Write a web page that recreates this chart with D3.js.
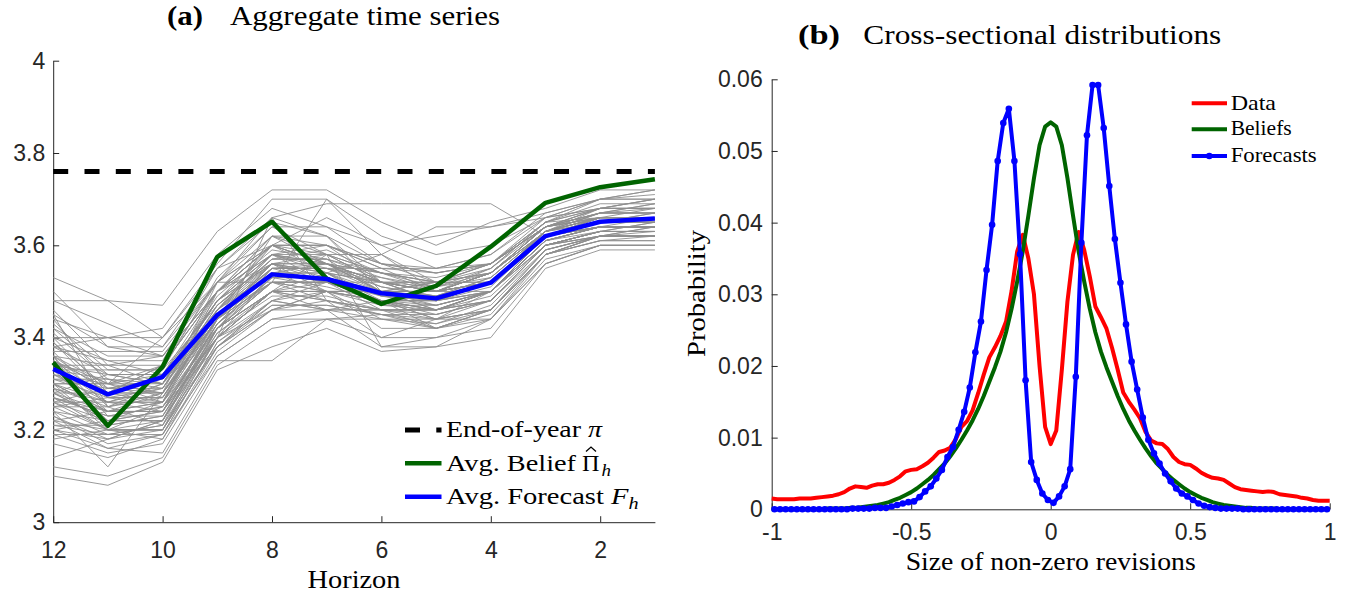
<!DOCTYPE html>
<html>
<head>
<meta charset="utf-8">
<script src="https://cdn.jsdelivr.net/npm/d3@7"></script>
<style>
  body { margin: 0; background: #fff; }
  svg { display: block; }
</style>
</head>
<body>
<div id="chart"></div>
<script>
/**
 * Data - panel (a)
 */
const horizons = [12, 11, 10, 9, 8, 7, 6, 5, 4, 3, 2, 1];
const endOfYearPi = 3.76;
const avgBelief = [3.346, 3.209, 3.337, 3.575, 3.651, 3.528, 3.473, 3.512, 3.597, 3.692, 3.726, 3.743];
const avgForecast = [3.332, 3.277, 3.315, 3.449, 3.537, 3.527, 3.496, 3.485, 3.519, 3.620, 3.651, 3.658];
// individual forecaster paths, horizon 12 -> 1
const forecasterPaths = [
  [3.35,3.27,3.27,3.45,3.55,3.55,3.50,3.50,3.50,3.62,3.65,3.65],
  [3.42,3.32,3.30,3.50,3.60,3.60,3.52,3.48,3.52,3.63,3.68,3.68],
  [3.20,3.18,3.20,3.40,3.50,3.48,3.45,3.45,3.48,3.60,3.63,3.63],
  [3.30,3.30,3.30,3.42,3.55,3.55,3.55,3.50,3.55,3.65,3.66,3.66],
  [3.25,3.20,3.25,3.38,3.47,3.47,3.45,3.42,3.45,3.58,3.62,3.62],
  [3.38,3.35,3.35,3.55,3.65,3.62,3.50,3.52,3.55,3.65,3.70,3.70],
  [3.45,3.25,3.30,3.48,3.58,3.52,3.48,3.46,3.50,3.62,3.66,3.66],
  [3.28,3.22,3.22,3.45,3.52,3.52,3.50,3.48,3.52,3.62,3.64,3.64],
  [3.33,3.28,3.34,3.50,3.62,3.56,3.54,3.53,3.56,3.66,3.68,3.68],
  [3.22,3.16,3.19,3.36,3.44,3.44,3.44,3.44,3.44,3.56,3.60,3.60],
  [3.40,3.35,3.32,3.46,3.56,3.58,3.52,3.52,3.56,3.64,3.67,3.69],
  [3.18,3.20,3.20,3.40,3.48,3.50,3.48,3.44,3.50,3.60,3.63,3.65],
  [3.50,3.38,3.38,3.52,3.66,3.62,3.56,3.55,3.58,3.67,3.70,3.71],
  [3.27,3.24,3.26,3.44,3.54,3.54,3.47,3.47,3.50,3.61,3.64,3.64],
  [3.35,3.30,3.26,3.42,3.52,3.48,3.46,3.46,3.50,3.60,3.62,3.62],
  [3.24,3.12,3.28,3.42,3.50,3.50,3.50,3.48,3.52,3.63,3.65,3.67],
  [3.36,3.30,3.40,3.55,3.60,3.66,3.60,3.55,3.58,3.66,3.70,3.70],
  [3.30,3.26,3.26,3.40,3.50,3.50,3.42,3.42,3.46,3.59,3.62,3.63],
  [3.12,3.10,3.14,3.34,3.42,3.44,3.40,3.40,3.42,3.56,3.60,3.60],
  [3.44,3.40,3.40,3.56,3.70,3.70,3.62,3.58,3.60,3.66,3.70,3.72],
  [3.26,3.22,3.24,3.43,3.55,3.56,3.50,3.50,3.52,3.62,3.65,3.66],
  [3.32,3.26,3.26,3.46,3.58,3.54,3.52,3.50,3.54,3.63,3.66,3.66],
  [3.21,3.19,3.21,3.38,3.46,3.46,3.46,3.44,3.48,3.60,3.62,3.62],
  [3.38,3.32,3.30,3.48,3.56,3.50,3.48,3.48,3.52,3.62,3.65,3.65],
  [3.30,3.30,3.34,3.50,3.60,3.60,3.55,3.55,3.56,3.64,3.67,3.67],
  [3.34,3.24,3.24,3.40,3.50,3.46,3.38,3.40,3.44,3.58,3.62,3.62],
  [3.28,3.28,3.28,3.44,3.52,3.52,3.52,3.48,3.50,3.62,3.64,3.64],
  [3.40,3.28,3.34,3.52,3.64,3.58,3.54,3.52,3.54,3.64,3.68,3.68],
  [3.23,3.18,3.22,3.41,3.50,3.52,3.48,3.46,3.50,3.61,3.64,3.64],
  [3.36,3.34,3.36,3.50,3.58,3.55,3.53,3.50,3.52,3.63,3.66,3.66],
  [3.29,3.21,3.23,3.42,3.53,3.53,3.49,3.47,3.50,3.62,3.65,3.65],
  [3.25,3.25,3.28,3.45,3.56,3.56,3.50,3.52,3.52,3.62,3.66,3.66],
  [3.33,3.31,3.30,3.46,3.54,3.50,3.48,3.48,3.50,3.61,3.63,3.63],
  [3.17,3.14,3.18,3.38,3.48,3.46,3.44,3.42,3.46,3.58,3.61,3.61],
  [3.42,3.36,3.36,3.52,3.62,3.60,3.55,3.54,3.56,3.65,3.68,3.70],
  [3.31,3.27,3.29,3.47,3.56,3.56,3.51,3.49,3.53,3.63,3.65,3.67],
  [3.37,3.25,3.21,3.40,3.46,3.50,3.50,3.46,3.48,3.60,3.62,3.64],
  [3.24,3.22,3.26,3.46,3.60,3.58,3.52,3.50,3.54,3.64,3.66,3.66],
  [3.30,3.24,3.26,3.44,3.54,3.52,3.50,3.48,3.52,3.62,3.64,3.64],
  [3.46,3.34,3.34,3.50,3.58,3.56,3.50,3.50,3.52,3.62,3.66,3.66],
  [3.26,3.20,3.20,3.38,3.46,3.48,3.46,3.46,3.48,3.60,3.63,3.63],
  [3.34,3.32,3.32,3.48,3.58,3.60,3.56,3.52,3.56,3.64,3.67,3.67],
  [3.22,3.24,3.24,3.43,3.52,3.50,3.47,3.46,3.50,3.61,3.64,3.64],
  [3.39,3.29,3.28,3.44,3.56,3.54,3.49,3.48,3.51,3.62,3.65,3.65],
  [3.29,3.26,3.30,3.48,3.60,3.56,3.52,3.50,3.54,3.63,3.67,3.67],
  [3.36,3.23,3.25,3.42,3.52,3.52,3.48,3.46,3.50,3.61,3.64,3.64],
  [3.31,3.29,3.29,3.46,3.55,3.55,3.52,3.50,3.52,3.63,3.66,3.66],
  [3.28,3.22,3.22,3.42,3.50,3.48,3.46,3.45,3.48,3.60,3.63,3.63],
  [3.33,3.33,3.33,3.47,3.57,3.57,3.53,3.51,3.54,3.63,3.66,3.68],
  [3.26,3.26,3.29,3.45,3.54,3.52,3.50,3.48,3.52,3.62,3.64,3.64],
  [3.53,3.48,3.47,3.63,3.72,3.72,3.65,3.60,3.65,3.68,3.72,3.72],
  [3.10,3.08,3.13,3.33,3.38,3.42,3.37,3.38,3.40,3.55,3.59,3.59],
  [3.48,3.43,3.38,3.55,3.66,3.69,3.69,3.69,3.69,3.62,3.66,3.66],
  [3.38,3.40,3.42,3.58,3.68,3.64,3.60,3.62,3.64,3.67,3.70,3.72],
  [3.20,3.16,3.15,3.35,3.35,3.44,3.45,3.44,3.46,3.58,3.61,3.61],
  [3.30,3.20,3.22,3.40,3.66,3.48,3.40,3.44,3.46,3.58,3.62,3.62],
  [3.44,3.30,3.28,3.52,3.52,3.70,3.58,3.50,3.54,3.64,3.66,3.66],
  [3.27,3.23,3.23,3.42,3.50,3.58,3.38,3.38,3.44,3.57,3.60,3.60],
  [3.36,3.28,3.26,3.50,3.60,3.54,3.58,3.64,3.64,3.66,3.68,3.70],
  [3.19,3.19,3.19,3.39,3.48,3.46,3.48,3.42,3.44,3.56,3.60,3.60],
  [3.48,3.48,3.40,3.52,3.60,3.56,3.52,3.50,3.52,3.63,3.66,3.66],
  [3.40,3.40,3.36,3.50,3.56,3.54,3.50,3.50,3.54,3.64,3.68,3.68],
  [3.28,3.32,3.32,3.48,3.58,3.58,3.58,3.52,3.52,3.62,3.66,3.66],
  [3.22,3.20,3.20,3.42,3.52,3.52,3.46,3.46,3.50,3.60,3.63,3.65],
  [3.14,3.18,3.22,3.40,3.50,3.50,3.48,3.45,3.48,3.59,3.62,3.62],
  [3.34,3.26,3.24,3.44,3.62,3.62,3.52,3.48,3.50,3.62,3.65,3.65],
  [3.31,3.31,3.27,3.44,3.54,3.56,3.54,3.50,3.54,3.64,3.66,3.66],
  [3.36,3.20,3.20,3.38,3.48,3.52,3.48,3.44,3.46,3.58,3.62,3.64],
  [3.26,3.29,3.31,3.49,3.59,3.57,3.50,3.49,3.53,3.63,3.67,3.69],
  [3.43,3.33,3.33,3.53,3.64,3.64,3.56,3.54,3.56,3.65,3.69,3.69],
  [3.19,3.15,3.17,3.36,3.44,3.46,3.46,3.42,3.46,3.58,3.61,3.62],
  [3.32,3.28,3.28,3.44,3.52,3.50,3.50,3.50,3.52,3.62,3.64,3.64],
  [3.27,3.23,3.25,3.40,3.54,3.54,3.48,3.48,3.52,3.62,3.66,3.66],
  [3.37,3.37,3.37,3.52,3.60,3.56,3.52,3.52,3.54,3.63,3.67,3.67],
  [3.24,3.19,3.21,3.44,3.56,3.52,3.48,3.46,3.48,3.60,3.63,3.63],
  [3.30,3.24,3.24,3.40,3.50,3.54,3.52,3.50,3.52,3.62,3.65,3.65],
  [3.41,3.31,3.29,3.47,3.57,3.59,3.54,3.51,3.55,3.64,3.67,3.68],
  [3.21,3.21,3.23,3.41,3.49,3.49,3.46,3.46,3.49,3.60,3.63,3.63],
  [3.35,3.29,3.31,3.48,3.56,3.53,3.50,3.49,3.52,3.63,3.66,3.66],
  [3.29,3.25,3.27,3.45,3.55,3.55,3.51,3.49,3.52,3.62,3.64,3.66],
  [3.33,3.22,3.22,3.42,3.50,3.50,3.50,3.46,3.50,3.61,3.64,3.64],
  [3.25,3.27,3.27,3.46,3.58,3.56,3.52,3.51,3.53,3.63,3.66,3.66],
  [3.45,3.38,3.36,3.50,3.62,3.58,3.54,3.52,3.56,3.65,3.68,3.70],
  [3.23,3.17,3.19,3.39,3.47,3.47,3.45,3.43,3.47,3.59,3.62,3.62],
  [3.32,3.30,3.32,3.50,3.60,3.60,3.56,3.54,3.56,3.64,3.68,3.68],
  [3.39,3.27,3.25,3.43,3.53,3.51,3.48,3.47,3.50,3.61,3.64,3.64],
  [3.28,3.24,3.28,3.46,3.57,3.57,3.54,3.52,3.54,3.64,3.66,3.66],
  [3.34,3.34,3.30,3.45,3.55,3.52,3.49,3.48,3.52,3.62,3.65,3.65],
  [3.20,3.22,3.24,3.43,3.53,3.53,3.50,3.47,3.50,3.61,3.64,3.64],
  [3.27,3.20,3.18,3.37,3.46,3.50,3.44,3.43,3.46,3.59,3.62,3.62]
];
const yTicksA = [3, 3.2, 3.4, 3.6, 3.8, 4];
const yTickLabelsA = ['3', '3.2', '3.4', '3.6', '3.8', '4'];
const xTicksA = [12, 10, 8, 6, 4, 2];
const xTickLabelsA = ['12', '10', '8', '6', '4', '2'];

/**
 * Data - panel (b)
 */
const revisionGrid = [
  -1.00,-0.98,-0.96,-0.94,-0.92,-0.90,-0.88,-0.86,-0.84,-0.82,
  -0.80,-0.78,-0.76,-0.74,-0.72,-0.70,-0.68,-0.66,-0.64,-0.62,
  -0.60,-0.58,-0.56,-0.54,-0.52,-0.50,-0.48,-0.46,-0.44,-0.42,
  -0.40,-0.38,-0.36,-0.34,-0.32,-0.30,-0.28,-0.26,-0.24,-0.22,
  -0.20,-0.18,-0.16,-0.14,-0.12,-0.10,-0.08,-0.06,-0.04,-0.02,
  0.00,0.02,0.04,0.06,0.08,0.10,0.12,0.14,0.16,0.18,
  0.20,0.22,0.24,0.26,0.28,0.30,0.32,0.34,0.36,0.38,
  0.40,0.42,0.44,0.46,0.48,0.50,0.52,0.54,0.56,0.58,
  0.60,0.62,0.64,0.66,0.68,0.70,0.72,0.74,0.76,0.78,
  0.80,0.82,0.84,0.86,0.88,0.90,0.92,0.94,0.96,0.98,
  1.00
];
const dataProb = [
  0.0015,0.0014,0.0014,0.0014,0.0014,0.0015,0.0015,0.0015,0.0016,0.0017,
  0.0018,0.0019,0.0021,0.0024,0.0029,0.0032,0.0031,0.0030,0.0033,0.0035,
  0.0035,0.0037,0.0041,0.0046,0.0053,0.0055,0.0056,0.0060,0.0065,0.0072,
  0.0080,0.0082,0.0086,0.0098,0.0115,0.0123,0.0138,0.0162,0.0188,0.0212,
  0.0226,0.0242,0.0262,0.0305,0.0360,0.0383,0.0350,0.0300,0.0200,0.0115,
  0.0091,0.0110,0.0195,0.0290,0.0355,0.0387,0.0362,0.0325,0.0283,0.0268,
  0.0252,0.0225,0.0195,0.0163,0.0150,0.0139,0.0127,0.0108,0.0096,0.0092,
  0.0091,0.0084,0.0073,0.0066,0.0063,0.0062,0.0057,0.0051,0.0047,0.0044,
  0.0043,0.0041,0.0036,0.0031,0.0028,0.0027,0.0026,0.0025,0.0024,0.0025,
  0.0024,0.0021,0.0020,0.0019,0.0018,0.0016,0.0015,0.0013,0.0012,0.0012,
  0.0012
];
const beliefsProb = [
  0,0,0,0,0,0,0,0,0,0,
  0.0001,0.0001,0.0001,0.0001,0.0002,0.0002,0.0003,0.0004,0.0005,0.0006,
  0.0008,0.0010,0.0013,0.0016,0.0020,0.0024,0.0029,0.0035,0.0041,0.0048,
  0.0056,0.0064,0.0074,0.0085,0.0097,0.0110,0.0124,0.0140,0.0158,0.0178,
  0.0198,0.0220,0.0247,0.0280,0.0318,0.0360,0.0410,0.0462,0.0508,0.0534,
  0.0540,0.0534,0.0508,0.0462,0.0410,0.0360,0.0318,0.0280,0.0247,0.0220,
  0.0198,0.0178,0.0158,0.0140,0.0124,0.0110,0.0097,0.0085,0.0074,0.0064,
  0.0056,0.0048,0.0041,0.0035,0.0029,0.0024,0.0020,0.0016,0.0013,0.0010,
  0.0008,0.0006,0.0005,0.0004,0.0003,0.0002,0.0002,0.0001,0.0001,0.0001,
  0.0001,0,0,0,0,0,0,0,0,0,
  0
];
const forecastBins = [
  -0.99,-0.97,-0.95,-0.93,-0.91,-0.89,-0.87,-0.85,-0.83,-0.81,
  -0.79,-0.77,-0.75,-0.73,-0.71,-0.69,-0.67,-0.65,-0.63,-0.61,
  -0.59,-0.57,-0.55,-0.53,-0.51,-0.49,-0.47,-0.45,-0.43,-0.41,
  -0.39,-0.37,-0.35,-0.33,-0.31,-0.29,-0.27,-0.25,-0.23,-0.21,
  -0.19,-0.17,-0.15,-0.13,-0.11,-0.09,-0.07,-0.05,-0.03,-0.01,
  0.01,0.03,0.05,0.07,0.09,0.11,0.13,0.15,0.17,0.19,
  0.21,0.23,0.25,0.27,0.29,0.31,0.33,0.35,0.37,0.39,
  0.41,0.43,0.45,0.47,0.49,0.51,0.53,0.55,0.57,0.59,
  0.61,0.63,0.65,0.67,0.69,0.71,0.73,0.75,0.77,0.79,
  0.81,0.83,0.85,0.87,0.89,0.91,0.93,0.95,0.97,0.99
];
const forecastsProb = [
  0,0,0,0,0,0,0,0,0,0,
  0,0,0,0,0.0001,0.0001,0.0001,0.0001,0.0002,0.0002,
  0.0002,0.0004,0.0006,0.0008,0.0010,0.0011,0.0017,0.0025,0.0032,0.0043,
  0.0055,0.0073,0.0087,0.0111,0.0136,0.0170,0.0219,0.0262,0.0334,0.0397,
  0.0486,0.0539,0.0559,0.0486,0.0356,0.0180,0.0066,0.0041,0.0022,0.0013,
  0.0009,0.0018,0.0032,0.0056,0.0185,0.0372,0.0522,0.0592,0.0592,0.0532,
  0.0451,0.0377,0.0316,0.0258,0.0206,0.0167,0.0128,0.0097,0.0078,0.0064,
  0.0050,0.0039,0.0029,0.0022,0.0018,0.0013,0.0008,0.0005,0.0003,0.0002,
  0.0001,0.0001,0.0001,0.0001,0,0,0,0,0,0,
  0,0,0,0,0,0,0,0,0,0
];
const yTicksB = [0, 0.01, 0.02, 0.03, 0.04, 0.05, 0.06];
const yTickLabelsB = ['0', '0.01', '0.02', '0.03', '0.04', '0.05', '0.06'];
const xTicksB = [-1, -0.5, 0, 0.5, 1];
const xTickLabelsB = ['-1', '-0.5', '0', '0.5', '1'];

/**
 * Basic settings
 */
const axisColor = '#262626';
const sansFont = '"Liberation Sans", Arial, Helvetica, sans-serif';
const serifFont = '"Liberation Serif", "Times New Roman", serif';
const green = '#006400';
const blue = '#0000ff';
const red = '#ff0000';
const dash = '15,16.3';

const svg = d3.select('#chart')
    .append('svg')
    .attr('width', 1351)
    .attr('height', 598)
    .style('background', '#fff');

function styleAxis(g) {
  g.attr('font-family', sansFont).attr('font-size', 23);
  g.select('.domain').attr('stroke', axisColor).attr('stroke-width', 1);
  g.selectAll('.tick line').attr('stroke', axisColor).attr('stroke-width', 1);
  g.selectAll('.tick text').attr('fill', axisColor);
}

function serifText(x, y, str, size, len, anchor) {
  const t = svg.append('text')
    .attr('x', x).attr('y', y)
    .attr('font-family', serifFont)
    .attr('font-size', size)
    .attr('fill', '#000')
    .attr('text-anchor', anchor || 'start')
    .text(str);
  if (len) t.attr('textLength', len).attr('lengthAdjust', 'spacingAndGlyphs');
  return t;
}

/**
 * Panel (a)
 */
const xA = d3.scaleLinear().domain([12, 1]).range([53.2, 654.9]);
const yA = d3.scaleLinear().domain([3, 4]).range([522.2, 60.7]);

svg.append('g')
  .attr('transform', `translate(${xA(12)},0)`)
  .call(d3.axisLeft(yA).tickValues(yTicksA).tickFormat((d, i) => yTickLabelsA[i])
    .tickSize(-6).tickSizeOuter(0).tickPadding(8))
  .call(styleAxis);

svg.append('g')
  .attr('transform', `translate(0,${yA(3)})`)
  .call(d3.axisBottom(xA).tickValues(xTicksA).tickFormat((d, i) => xTickLabelsA[i])
    .tickSize(-6).tickSizeOuter(0).tickPadding(19))
  .call(styleAxis);

const lineA = d3.line()
  .x((d, i) => xA(horizons[i]))
  .y(d => yA(d));

svg.append('g')
  .selectAll('path')
  .data(forecasterPaths)
  .join('path')
  .attr('d', lineA)
  .attr('fill', 'none')
  .attr('stroke', '#8e8e8e')
  .attr('stroke-width', 0.9);

svg.append('line')
  .attr('x1', xA(12)).attr('x2', xA(1))
  .attr('y1', yA(endOfYearPi)).attr('y2', yA(endOfYearPi))
  .attr('stroke', '#000').attr('stroke-width', 5)
  .attr('stroke-dasharray', dash);

svg.append('path')
  .datum(avgBelief)
  .attr('d', lineA)
  .attr('fill', 'none').attr('stroke', green).attr('stroke-width', 4.5)
  .attr('stroke-linejoin', 'round');

svg.append('path')
  .datum(avgForecast)
  .attr('d', lineA)
  .attr('fill', 'none').attr('stroke', blue).attr('stroke-width', 4.5)
  .attr('stroke-linejoin', 'round');

// legend (a)
const legA = [
  {y: 430, color: '#000', dash: dash, w: 5},
  {y: 463.3, color: green, dash: null, w: 4.5},
  {y: 496.7, color: blue, dash: null, w: 4.5}
];
svg.append('g').selectAll('line').data(legA).join('line')
  .attr('x1', 405).attr('x2', 441.5)
  .attr('y1', d => d.y).attr('y2', d => d.y)
  .attr('stroke', d => d.color).attr('stroke-width', d => d.w)
  .attr('stroke-dasharray', d => d.dash);

const la1 = serifText(446, 437, 'End-of-year ', 24, 156);
la1.append('tspan').attr('font-style', 'italic').text('\u03c0');
serifText(446, 470.5, 'Avg.  Belief', 24, 130);
serifText(582, 470.5, '\u03a0', 24, 17.5);
serifText(601.5, 475.5, 'h', 17, 9.5).attr('font-style', 'italic');
svg.append('path')
  .attr('d', 'M586,451.5 L591,447 L596,451.5')
  .attr('fill', 'none').attr('stroke', '#000').attr('stroke-width', 1.3);
const la3 = serifText(446, 503.5, 'Avg.  Forecast ', 24, 192.5);
la3.append('tspan').attr('font-style', 'italic').text('F');
la3.append('tspan').attr('font-style', 'italic').attr('font-size', 17).attr('dy', 5).text('h');

// title and label (a)
serifText(167, 25, '(a)', 27, 36).attr('font-weight', 'bold');
serifText(230, 25, 'Aggregate time series', 27, 270);
serifText(354, 587.5, 'Horizon', 25, 93, 'middle');

/**
 * Panel (b)
 */
const xB = d3.scaleLinear().domain([-1, 1]).range([771.7, 1329.7]);
const yB = d3.scaleLinear().domain([0, 0.06]).range([509.3, 79.3]);

svg.append('g')
  .attr('transform', `translate(${xB(-1)},0)`)
  .call(d3.axisLeft(yB).tickValues(yTicksB).tickFormat((d, i) => yTickLabelsB[i])
    .tickSize(-6).tickSizeOuter(0).tickPadding(9))
  .call(styleAxis);

svg.append('g')
  .attr('transform', `translate(0,${yB(0)})`)
  .call(d3.axisBottom(xB).tickValues(xTicksB).tickFormat((d, i) => xTickLabelsB[i])
    .tickSize(-6).tickSizeOuter(0).tickPadding(14))
  .call(styleAxis);

const lineGrid = d3.line()
  .x((d, i) => xB(revisionGrid[i]))
  .y(d => yB(d));
const lineBins = d3.line()
  .x((d, i) => xB(forecastBins[i]))
  .y(d => yB(d));

svg.append('path').datum(dataProb).attr('d', lineGrid)
  .attr('fill', 'none').attr('stroke', red).attr('stroke-width', 4)
  .attr('stroke-linejoin', 'round');
svg.append('path').datum(beliefsProb).attr('d', lineGrid)
  .attr('fill', 'none').attr('stroke', green).attr('stroke-width', 4)
  .attr('stroke-linejoin', 'round');
svg.append('path').datum(forecastsProb).attr('d', lineBins)
  .attr('fill', 'none').attr('stroke', blue).attr('stroke-width', 4)
  .attr('stroke-linejoin', 'round');
svg.append('g').selectAll('circle')
  .data(forecastsProb)
  .join('circle')
  .attr('cx', (d, i) => xB(forecastBins[i]))
  .attr('cy', d => yB(d))
  .attr('r', 3.3)
  .attr('fill', blue);

// legend (b)
const legB = [
  {y: 103.3, color: red, label: 'Data', len: 45.3, base: 109.5},
  {y: 129.3, color: green, label: 'Beliefs', len: 61, base: 135.3},
  {y: 156, color: blue, label: 'Forecasts', len: 86, base: 162}
];
svg.append('g').selectAll('line').data(legB).join('line')
  .attr('x1', 1191.7).attr('x2', 1227)
  .attr('y1', d => d.y).attr('y2', d => d.y)
  .attr('stroke', d => d.color).attr('stroke-width', 4);
svg.append('circle')
  .attr('cx', 1209.3).attr('cy', 156).attr('r', 3.3).attr('fill', blue);
legB.forEach(d => serifText(1230.7, d.base, d.label, 21, d.len));

// title and labels (b)
serifText(798, 43.5, '(b)', 27, 42).attr('font-weight', 'bold');
serifText(863.3, 43.5, 'Cross-sectional distributions', 27, 358);
serifText(1050.7, 570, 'Size of non-zero revisions', 25, 290, 'middle');
serifText(0, 0, 'Probability', 25, 127, 'middle')
  .attr('transform', 'translate(705,293.5) rotate(-90)');
</script>
</body>
</html>
